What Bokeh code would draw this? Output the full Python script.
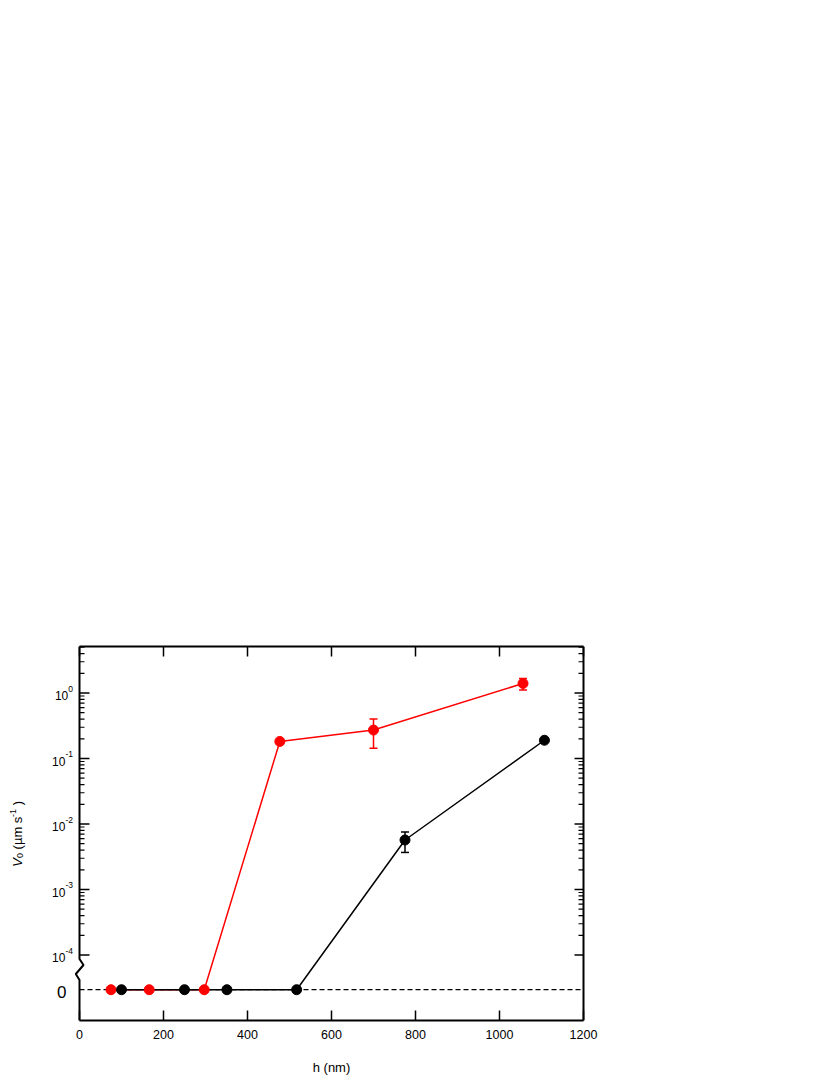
import math
from bokeh.plotting import figure
from bokeh.models import (LinearAxis, FixedTicker, Range1d, Whisker, TeeHead,
                          ColumnDataSource)
from bokeh.core.properties import value
from bokeh.embed import file_html
from bokeh.resources import INLINE

# ---------------- data ----------------
red_h = [75, 166, 297, 477, 700, 1056]
red_v = [0, 0, 0, 0.182, 0.272, 1.40]
red_err_h = [700, 1056]
red_err_lo = [0.143, 1.11]
red_err_hi = [0.40, 1.67]

black_h = [100, 250, 351, 517, 775, 1107]
black_v = [0, 0, 0, 0, 0.0057, 0.19]
black_err_h = [775]
black_err_lo = [0.00368]
black_err_hi = [0.00755]

x_ticks = [0, 200, 400, 600, 800, 1000, 1200]
y_decades = [-4, -3, -2, -1, 0]
x_label = "h (nm)"

# ---------------- layout constants ----------------
FONT = "Liberation Sans"
X0, X1 = x_ticks[0], x_ticks[-1]
Y_MIN, Y_MAX = -5.0, 0.71
ZERO_POS = -4.53           # where the "0" level sits below the axis break
PX = 0.42                  # pixels per x unit (504 px for 1200 nm)
PAD = 79                   # pixels kept inside the frame on each side of the box
X_LEFT = X0 - PAD / PX
X_RIGHT = X1 + PAD / PX
FRAME_H = 374
YPX = FRAME_H / (Y_MAX - Y_MIN)   # pixels per decade


def dx(pix):
    return pix / PX


def dy(pix):
    return pix / YPX


def ypos(v):
    return math.log10(v) if v > 0 else ZERO_POS


minor = [n + math.log10(k) for n in y_decades for k in range(2, 10)
         if n + math.log10(k) <= Y_MAX]

p = figure(frame_width=round((X_RIGHT - X_LEFT) * PX), frame_height=FRAME_H,
           x_range=Range1d(X_LEFT, X_RIGHT), y_range=Range1d(Y_MIN, Y_MAX),
           output_backend="svg", toolbar_location=None,
           min_border_left=0, min_border_right=120,
           min_border_top=646, min_border_bottom=55)
p.xgrid.visible = False
p.ygrid.visible = False
p.yaxis.visible = False
p.outline_line_color = None
p.background_fill_color = "white"
p.border_fill_color = "white"

# bottom axis
bx = p.xaxis[0]
bx.bounds = (X0, X1)
bx.ticker = FixedTicker(ticks=x_ticks, minor_ticks=[])
bx.major_tick_in = 10
bx.major_tick_out = 0
bx.minor_tick_in = 0
bx.minor_tick_out = 0
bx.axis_line_width = 2
bx.major_tick_line_width = 1.5
bx.major_label_text_font = FONT
bx.major_label_text_font_size = "12.5px"
bx.major_label_text_color = "black"
bx.major_label_standoff = 9
bx.axis_label = x_label
bx.axis_label_text_font = FONT
bx.axis_label_text_font_size = "13px"
bx.axis_label_text_font_style = "normal"
bx.axis_label_text_color = "black"
bx.axis_label_standoff = 18

# top axis
tx = LinearAxis(ticker=FixedTicker(ticks=x_ticks, minor_ticks=[]), bounds=(X0, X1),
                major_tick_in=10, major_tick_out=0, minor_tick_in=0, minor_tick_out=0,
                axis_line_width=2, major_tick_line_width=1.5,
                major_label_text_color=None)
p.add_layout(tx, "above")

# right border with ticks
p.line([X1, X1], [Y_MIN, Y_MAX], line_color="black", line_width=2)
p.segment(x0=[X1] * len(y_decades), y0=y_decades, x1=[X1 - dx(9)] * len(y_decades),
          y1=y_decades, line_color="black", line_width=1.5)
p.segment(x0=[X1] * len(minor), y0=minor, x1=[X1 - dx(5)] * len(minor), y1=minor,
          line_color="black", line_width=1.2)

# left border with axis break
brk_top, brk_bot = -4.061, -4.382
bxs = [X0, X0, X0 - dx(3.7), X0 + dx(4.0), X0, X0]
bys = [Y_MIN, brk_bot, -4.29, -4.153, brk_top, Y_MAX]
p.line(bxs, bys, line_color="black", line_width=2)

# left ticks
p.segment(x0=[X0] * len(y_decades), y0=y_decades, x1=[X0 + dx(10)] * len(y_decades),
          y1=y_decades, line_color="black", line_width=1.5)
p.segment(x0=[X0] * len(minor), y0=minor, x1=[X0 + dx(5)] * len(minor), y1=minor,
          line_color="black", line_width=1.2)

# zero dashed line
p.line([X0, X1], [ZERO_POS, ZERO_POS], line_color="black", line_width=1.2,
       line_dash="5 3")

red_y = [ypos(v) for v in red_v]
black_y = [ypos(v) for v in black_v]

p.line(red_h, red_y, line_color="#ff0000", line_width=1.5)
p.line(black_h, black_y, line_color="black", line_width=1.5)
p.scatter(red_h, red_y, size=10, fill_color="#ff0000", line_color="#ff0000")
p.scatter(black_h, black_y, size=10, fill_color="black", line_color="black")

for hs, lo, hi, col in [(red_err_h, red_err_lo, red_err_hi, "#ff0000"),
                        (black_err_h, black_err_lo, black_err_hi, "black")]:
    src = ColumnDataSource(dict(base=hs, lower=[math.log10(v) for v in lo],
                                upper=[math.log10(v) for v in hi]))
    p.add_layout(Whisker(source=src, base="base", lower="lower", upper="upper",
                         line_color=col, line_width=1.5,
                         upper_head=TeeHead(size=8, line_color=col, line_width=1.5),
                         lower_head=TeeHead(size=8, line_color=col, line_width=1.5)))

# y tick labels 10^n
W = {'-': 0.333, ' ': 0.278, '(': 0.333, ')': 0.333, 'µ': 0.556, 'm': 0.833,
     's': 0.5, 'V': 0.667}
for d in "0123456789":
    W[d] = 0.556


def tw(s, size):
    return sum(W.get(c, 0.556) for c in s) * size


SUP = 8.5
LBL_GAP = 6.5
exps = [str(n) for n in y_decades]
p.text(x=[X0 - dx(LBL_GAP)] * len(y_decades), y=[n + dy(4.5) for n in y_decades],
       text=exps, text_align="right", text_baseline="middle", text_font=value(FONT),
       text_font_size=f"{SUP}px", text_color="black")
p.text(x=[X0 - dx(LBL_GAP + tw(e, SUP)) for e in exps],
       y=[n - dy(2.5) for n in y_decades],
       text=["10"] * len(y_decades), text_align="right", text_baseline="middle",
       text_font=value(FONT), text_font_size="12px", text_color="black")

p.text(x=[X0 - dx(13)], y=[ZERO_POS - dy(2)], text=["0"], text_align="right",
       text_baseline="middle", text_font=value(FONT), text_font_size="17px",
       text_color="black")

# y axis title in pieces (V italic, subscript 0, superscript -1)
title_bottom = 0.0 - dy(866 - 692.3)
base_x = X0 - dx(79 - 17.0)
pieces = [("V", 13, "italic", 0, 0.0), ("0", 9, "normal", 2.5, 0.278 * 13),
          ("(µm s", 13, "normal", 0, 0.0), ("-1", 9, "normal", -5, 0.278 * 13),
          (")", 13, "normal", 0, 0.0)]
off = 0.0
for txt, size, style, shift, gap_after in pieces:
    p.text(x=[base_x + dx(shift)], y=[title_bottom + dy(off)], text=[txt],
           angle=math.pi / 2, text_align="left", text_baseline="alphabetic",
           text_font=value(FONT), text_font_size=f"{size}px", text_font_style=style,
           text_color="black")
    off += tw(txt, size) + gap_after

open("out.html", "w").write(file_html(p, INLINE))
